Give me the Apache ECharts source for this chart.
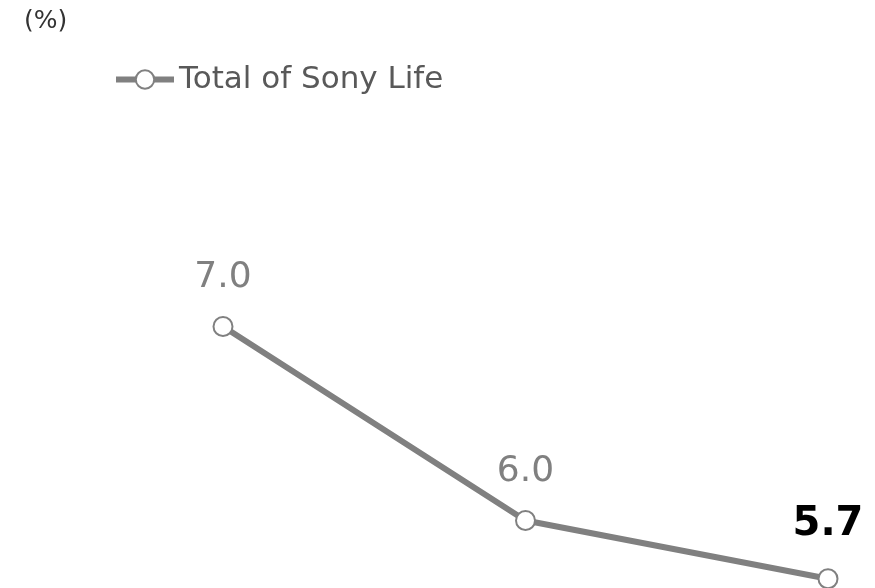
<!DOCTYPE html>
<html><head><meta charset="utf-8">
<script src="https://cdn.jsdelivr.net/npm/echarts@6/dist/echarts.min.js"></script>
<style>html,body{margin:0;padding:0;background:#fff}#c{width:875px;height:588px}</style>
</head><body><div id="c"></div>
<script>
const categories = ["A", "B", "C"];
const seriesName = "Total of Sony Life";
const values = [7.0, 6.0, 5.7];
const unitLabel = "(%)";

const chart = echarts.init(document.getElementById('c'));
const font = "Verdana, 'DejaVu Sans', sans-serif";
const data = values.map((v, i) => {
  const last = i === values.length - 1;
  return {
    value: v,
    label: last ? { color: '#000', fontWeight: 'bold', fontSize: 40, distance: 24 } : {}
  };
});
chart.setOption({
  animation: false,
  graphic: [{ type: 'text', left: 24, top: 9, style: { text: unitLabel, font: "25px " + font, fill: '#333' } }],
  legend: {
    left: 108, top: 59, itemWidth: 58, itemHeight: 23, itemGap: 4,
    lineStyle: { width: 6, color: '#808080' },
    itemStyle: { color: '#fff', borderColor: '#808080', borderWidth: 2 },
    textStyle: { color: '#595959', fontSize: 31, fontFamily: font },
    data: [seriesName]
  },
  grid: { left: 223, right: 47, top: 229.5, height: 357 },
  xAxis: { type: 'category', data: categories, boundaryGap: false, show: false },
  yAxis: { type: 'value', min: 5.66, max: 7.5, show: false },
  series: [{
    name: seriesName, type: 'line', data: data,
    symbol: 'circle', symbolSize: 19,
    lineStyle: { color: '#808080', width: 6 },
    itemStyle: { color: '#fff', borderColor: '#808080', borderWidth: 2 },
    label: { show: true, position: 'top', distance: 20, color: '#808080', fontSize: 36, fontFamily: font,
      formatter: p => p.value.toFixed(1) }
  }]
});
</script></body></html>
